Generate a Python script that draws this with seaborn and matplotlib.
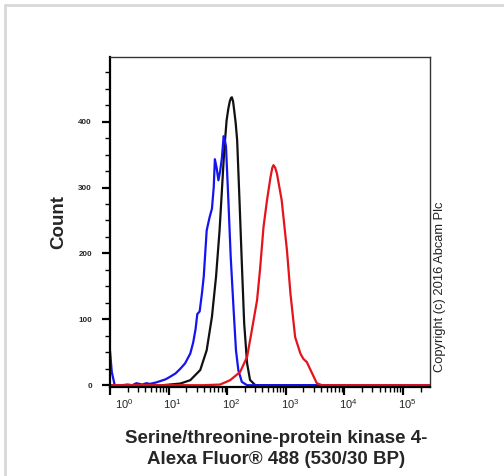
# flow cytometry histogram - STK4 / Alexa Fluor 488
import numpy as np
import pandas as pd
import matplotlib
matplotlib.use('Agg')
import matplotlib.pyplot as plt
import matplotlib.transforms as mtransforms
from matplotlib.lines import Line2D
from matplotlib.ticker import FixedLocator, LogLocator, MultipleLocator
import seaborn as sns

# -------------------------------------------------------
# data (x in log10 decades, y = count)
# -------------------------------------------------------
black_log = [0.0, 0.9, 1.2, 1.37, 1.54, 1.65, 1.74, 1.81, 1.87, 1.91, 1.95, 1.99,
             2.02, 2.045, 2.065, 2.08, 2.10, 2.12, 2.145, 2.17, 2.21, 2.25, 2.29,
             2.34, 2.39, 2.48, 5.46]
black_cnt = [0, 0, 2.5, 7.6, 23, 53, 104, 165, 235, 296, 357, 402,
             420, 431, 436, 437, 431, 417, 398, 372, 281, 185, 94,
             33, 8, 0, 0]

blue_log = [0.0, 0.03, 0.08, 0.2, 0.3, 0.38, 0.45, 0.55, 0.62, 0.68, 0.78, 0.85,
            0.95, 1.03, 1.12, 1.2, 1.28, 1.37, 1.42, 1.46, 1.49, 1.53, 1.57, 1.6,
            1.65, 1.70, 1.74, 1.77, 1.79, 1.82, 1.85, 1.88, 1.91, 1.94, 1.96, 1.98,
            2.02, 2.06, 2.11, 2.15, 2.19, 2.25, 2.34, 5.46]
blue_cnt = [52, 20, 0, 0, 1, 0, 3, 1, 3, 2, 4, 6,
            9, 13, 18, 25, 33, 48, 65, 85, 108, 112, 140, 165,
            235, 255, 268, 300, 343, 330, 311, 325, 345, 378, 372, 362,
            281, 195, 114, 53, 23, 5, 0, 0]

red_log = [0.0, 1.6, 1.88, 2.05, 2.22, 2.34, 2.42, 2.51, 2.56, 2.62, 2.68, 2.74,
           2.77, 2.79, 2.82, 2.85, 2.93, 3.02, 3.08, 3.16, 3.25, 3.30, 3.36, 3.45,
           3.53, 3.62, 5.46]
red_cnt = [0, 0, 1, 7.6, 20, 43, 83, 129, 175, 240, 281, 316,
           330, 334, 330, 321, 281, 205, 139, 73, 48, 40, 35, 18,
           3, 0, 0]

x_ticks = [1, 10, 100, 1000, 10000, 100000]
y_ticks = [0, 100, 200, 300, 400]

x_title = 'Serine/threonine-protein kinase 4-\nAlexa Fluor\u00ae 488 (530/30 BP)'
y_title = 'Count'
copyright_txt = 'Copyright (c) 2016 Abcam Plc'

# -------------------------------------------------------
# style
# -------------------------------------------------------
sns.set_style('ticks')
plt.rcParams['font.family'] = ['Liberation Sans', 'DejaVu Sans']
plt.rcParams['mathtext.fontset'] = 'custom'
plt.rcParams['mathtext.rm'] = 'Liberation Sans:bold'
plt.rcParams['mathtext.it'] = 'Liberation Sans:bold'
plt.rcParams['mathtext.bf'] = 'Liberation Sans:bold'

fig = plt.figure(figsize=(5.04, 4.76), dpi=100)
ax = fig.add_axes([0.2183, 0.188, 0.6349, 0.692])

# one dataframe per histogram, drawn with seaborn
curves = [('black', black_log, black_cnt, '#111111'),
          ('blue', blue_log, blue_cnt, '#1414f0'),
          ('red', red_log, red_cnt, '#e3141c')]
for name, lg, cnt, col in curves:
    d = pd.DataFrame({'fl': np.power(10.0, lg), 'count': cnt})
    sns.lineplot(data=d, x='fl', y='count', color=col, lw=1.6, ax=ax)

ax.set_xscale('log')
ax.set_xlim(1, 2.9e5)
ax.set_ylim(-2, 498)

# ticks
ax.xaxis.set_major_locator(FixedLocator(x_ticks))
ax.xaxis.set_minor_locator(LogLocator(base=10, subs=np.arange(2, 10), numticks=20))
ax.yaxis.set_major_locator(FixedLocator(y_ticks))
ax.yaxis.set_minor_locator(MultipleLocator(25))
ax.tick_params(axis='both', which='major', direction='out', length=6, width=1.6, color='black')
ax.tick_params(axis='both', which='minor', direction='out', length=3.5, width=1.0, color='black')
ax.tick_params(axis='x', which='major', labelsize=8, pad=1.5)
ax.tick_params(axis='y', which='major', labelsize=5.8, pad=7)
for lab in ax.get_yticklabels():
    lab.set_fontweight('bold')

# x tick labels sit a bit right of their tick, the first one more
for i, lab in enumerate(ax.get_xticklabels()):
    dx = 14 if i == 0 else 4
    lab.set_transform(lab.get_transform() + mtransforms.ScaledTranslation(dx / 100, 0, fig.dpi_scale_trans))

# spines: thick left/bottom, thin grey box
for side in ['left', 'bottom']:
    ax.spines[side].set_linewidth(1.6)
    ax.spines[side].set_color('black')
for side in ['top', 'right']:
    ax.spines[side].set_visible(True)
    ax.spines[side].set_linewidth(1.0)
    ax.spines[side].set_color('#333333')

ax.set_xlabel(x_title, fontsize=13.5, fontweight='bold', linespacing=1.25)
ax.xaxis.set_label_coords(0.519, -0.133)
ax.set_ylabel(y_title, fontsize=13.5, fontweight='bold', labelpad=8)

fig.text(440 / 504, 1 - 287 / 476, copyright_txt, rotation=90,
         ha='center', va='center', fontsize=9.3, color='#222222')

# light grey frame at the left and top of the picture
fig.add_artist(Line2D([5 / 504, 5 / 504], [0, 1 - 5 / 476], color='#d8d8d8', lw=2))
fig.add_artist(Line2D([5 / 504, 1], [1 - 5 / 476, 1 - 5 / 476], color='#d8d8d8', lw=2))

plt.savefig('out.png', dpi=100)
